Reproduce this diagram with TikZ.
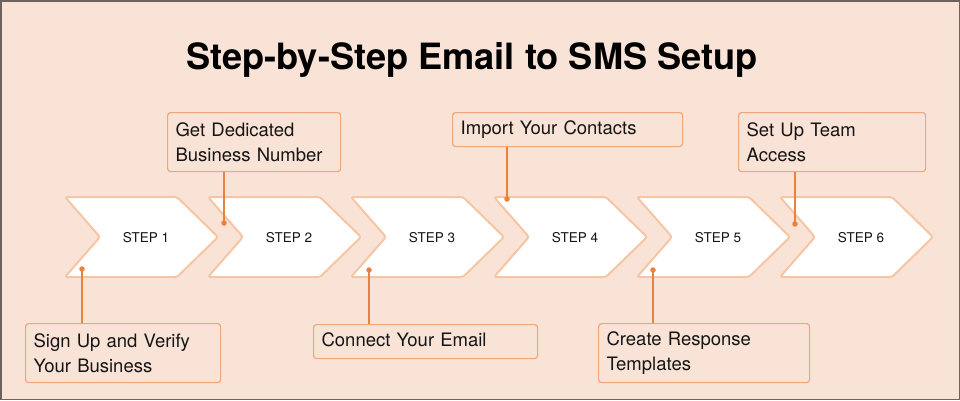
\documentclass[tikz,border=0pt]{standalone}
\usepackage{fontspec}
\setmainfont{TeX Gyre Heros}
\definecolor{bgc}{HTML}{F9E3D7}
\definecolor{framec}{HTML}{6E625C}
\definecolor{chevline}{HTML}{F6C6A4}
\definecolor{boxline}{HTML}{EEA77A}
\definecolor{linkc}{HTML}{E8833F}
\definecolor{txt}{HTML}{151515}
\begin{document}
\begin{tikzpicture}[x=1pt,y=-1pt,
  chev/.style={fill=white,draw=chevline,line width=2pt,rounded corners=2.5pt},
  steplabel/.style={font=\fontsize{13.5}{15}\selectfont,text=txt},
  callout/.style={draw=boxline,line width=1.2pt,rounded corners=3pt,fill=bgc,anchor=north west,
    align=left,inner xsep=8pt,inner ysep=0pt,text=txt,font=\fontsize{18.5}{25}\selectfont},
  link/.style={draw=linkc,line width=1.1pt},
  dotc/.style={circle,fill=linkc,inner sep=0pt,minimum size=5.5pt}]
\useasboundingbox (0,0) rectangle (960,400);
\fill[bgc] (0,0) rectangle (960,400);
\draw[framec,line width=1.5pt] (0.75,0.75) rectangle (959.25,399.25);
\node[font=\fontsize{36.2}{40}\selectfont\bfseries,text=black] (title) at (472,60) {Step-by-Step Email to SMS Setup};
% chevrons
\foreach \i in {1,...,6}{
  \pgfmathsetmacro{\xo}{65+143*(\i-1)}
  \draw[chev] (\xo,197) -- (\xo+112,197) -- (\xo+153,237) -- (\xo+112,277) -- (\xo,277) -- (\xo+35,237) -- cycle;
  \node[steplabel] (s\i) at (\xo+81,238) {STEP \i};
}
% callouts
\node[callout,text width=179pt,minimum width=195pt,minimum height=59pt] (b1) at (25,323) {Sign Up and Verify\\Your Business};
\node[callout,text width=157pt,minimum width=173pt,minimum height=59pt] (b2) at (167,112) {Get Dedicated\\Business Number};
\node[callout,text width=208pt,minimum width=224pt,minimum height=34pt] (b3) at (313,324) {Connect Your Email\strut};
\node[callout,text width=214pt,minimum width=230pt,minimum height=34pt] (b4) at (452,112) {Import Your Contacts\strut};
\node[callout,text width=195pt,minimum width=211pt,minimum height=59pt] (b5) at (598,323) {Create Response\\Templates};
\node[callout,text width=171pt,minimum width=187pt,minimum height=59pt] (b6) at (738,112) {Set Up Team\\Access};
% dots
\node[dotc] (d1) at (82,269) {};
\node[dotc] (d2) at (224,223) {};
\node[dotc] (d3) at (369,270) {};
\node[dotc] (d4) at (507,199) {};
\node[dotc] (d5) at (653,270) {};
\node[dotc] (d6) at (795,224) {};
% links
\draw[link] (d1.center) -- (d1.center |- b1.north);
\draw[link] (d2.center) -- (d2.center |- b2.south);
\draw[link] (d3.center) -- (d3.center |- b3.north);
\draw[link] (d4.center) -- (d4.center |- b4.south);
\draw[link] (d5.center) -- (d5.center |- b5.north);
\draw[link] (d6.center) -- (d6.center |- b6.south);
\end{tikzpicture}
\end{document}
